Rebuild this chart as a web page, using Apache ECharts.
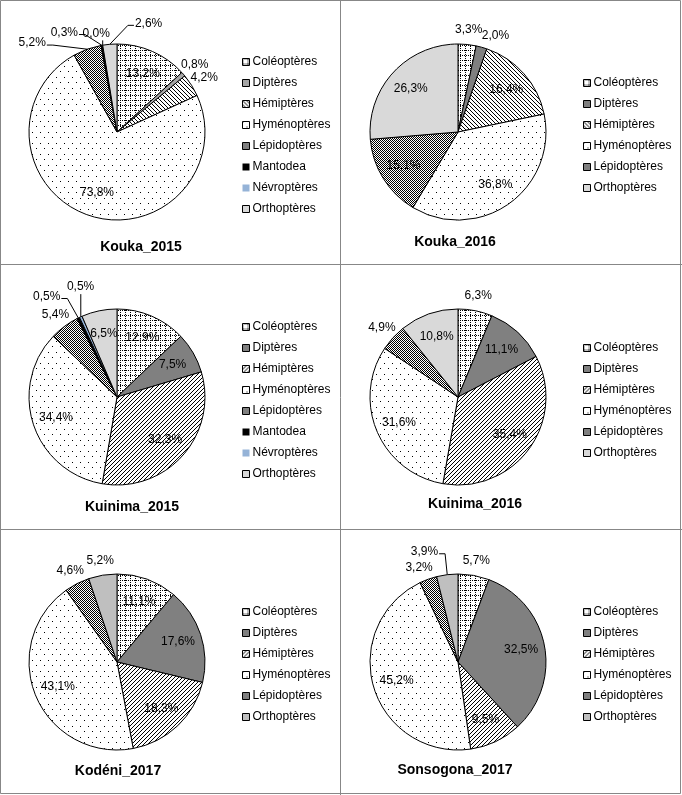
<!DOCTYPE html>
<html><head><meta charset="utf-8">
<script src="https://cdn.jsdelivr.net/npm/echarts@6/dist/echarts.min.js"></script>
<style>html,body{margin:0;padding:0;background:#fff}#c{width:682px;height:795px}</style>
</head><body><div id="c"></div>
<script>
// ---------- DATA ----------
const categories8 = ['Coléoptères','Diptères','Hémiptères','Hyménoptères','Lépidoptères','Mantodea','Névroptères','Orthoptères'];
const categories6 = ['Coléoptères','Diptères','Hémiptères','Hyménoptères','Lépidoptères','Orthoptères'];
const panelTitles = ['Kouka_2015','Kouka_2016','Kuinima_2015','Kuinima_2016','Kodéni_2017','Sonsogona_2017'];
const kouka2015 = [13.2, 0.8, 4.2, 73.8, 5.2, 0.3, 0.0, 2.6];
const kouka2016 = [3.3, 2.0, 16.4, 36.8, 15.1, 26.3];
const kuinima2015 = [12.9, 7.5, 32.3, 34.4, 5.4, 0.5, 0.5, 6.5];
const kuinima2016 = [6.3, 11.1, 35.4, 31.6, 4.9, 10.8];
const kodeni2017 = [11.1, 17.6, 18.3, 43.1, 4.6, 5.2];
const sonsogona2017 = [5.7, 32.5, 9.5, 45.2, 3.2, 3.9];

// ---------- STYLE / LAYOUT ----------
const FONT = '"Liberation Sans", Arial, sans-serif';
const R = 88;
function tile(w, h, bg, pixels) {
  const c = document.createElement('canvas'); c.width = w; c.height = h;
  const g = c.getContext('2d'); g.fillStyle = bg; g.fillRect(0, 0, w, h);
  g.fillStyle = '#000'; pixels.forEach(p => g.fillRect(p[0], p[1], 1, 1));
  return c;
}
function gridPx() { const a = []; for (let i = 0; i < 10; i += 2) { a.push([i, 0]); a.push([i, 5]); a.push([0, i]); a.push([5, i]); } return a; }
const pat = {
  grid: { image: tile(10, 10, '#fff', gridPx()), repeat: 'repeat' },
  back: { image: tile(4, 4, '#fff', [[0,0],[1,1],[2,2],[3,3]]), repeat: 'repeat' },
  slash: { image: tile(4, 4, '#fff', [[3,0],[2,1],[1,2],[0,3]]), repeat: 'repeat' },
  dots: { image: tile(8, 11, '#fff', [[0,0],[4,5]]), repeat: 'repeat' },
  checker: { image: tile(2, 2, '#fff', [[0,0],[1,1]]), repeat: 'repeat' }
};
const panels = [
  { title: panelTitles[0], names: categories8, values: kouka2015,   cx: 117, cy: 132, hatch: 'back',  dip: '#a6a6a6', orth: '#d9d9d9', tx: 141, ty: 247, lx: 237, ly: 51 },
  { title: panelTitles[1], names: categories6, values: kouka2016,   cx: 458, cy: 132, hatch: 'back',  dip: '#808080', orth: '#d9d9d9', tx: 455, ty: 242, lx: 578, ly: 72 },
  { title: panelTitles[2], names: categories8, values: kuinima2015, cx: 117, cy: 397, hatch: 'slash', dip: '#808080', orth: '#d9d9d9', tx: 132, ty: 507, lx: 237, ly: 316 },
  { title: panelTitles[3], names: categories6, values: kuinima2016, cx: 458, cy: 397, hatch: 'slash', dip: '#808080', orth: '#d9d9d9', tx: 475, ty: 504, lx: 578, ly: 337 },
  { title: panelTitles[4], names: categories6, values: kodeni2017,  cx: 117, cy: 662, hatch: 'slash', dip: '#808080', orth: '#bfbfbf', tx: 118, ty: 771, lx: 237, ly: 601 },
  { title: panelTitles[5], names: categories6, values: sonsogona2017, cx: 458, cy: 662, hatch: 'slash', dip: '#808080', orth: '#bfbfbf', tx: 455, ty: 770, lx: 578, ly: 601 }
];
// label nudges (dx, dy, leader line) for crowded small slices
const labelNudges = {
  0: { 4: [-50, 8, true], 5: [-35, 2, true], 6: [-4, 3, true], 7: [40, -6, true] },
  1: { 1: [10, 3, false] },
  2: { 5: [-25, -8, true], 6: [6, -16, true] },
  5: { 4: [-4, 3, false], 5: [-21, -8, true] }
};
function colorFor(name, p) {
  switch (name) {
    case 'Coléoptères': return pat.grid;
    case 'Diptères': return p.dip;
    case 'Hémiptères': return pat[p.hatch];
    case 'Hyménoptères': return pat.dots;
    case 'Lépidoptères': return pat.checker;
    case 'Mantodea': return '#000';
    case 'Névroptères': return '#95b3d7';
    default: return p.orth;
  }
}
const fmt = v => v.toFixed(1).replace('.', ',') + '%';

function layoutLabel(pi, params) {
  const p = panels[pi], vals = p.values, idx = params.dataIndex;
  const total = vals.reduce((a, b) => a + b, 0);
  let cum = 0; for (let k = 0; k < idx; k++) cum += vals[k];
  const mid = (cum + vals[idx] / 2) / total * 2 * Math.PI;
  const inside = vals[idx] >= 6.4;
  const d = inside ? R * 0.73 : R + 15;
  const n = (labelNudges[pi] || {})[idx] || [0, 0, false];
  const x = p.cx + d * Math.sin(mid) + n[0];
  const y = p.cy - d * Math.cos(mid) + n[1];
  const out = { x, y, align: 'center', verticalAlign: 'middle' };
  if (n[2]) {
    const ex = p.cx + R * Math.sin(mid), ey = p.cy - R * Math.cos(mid);
    const w = params.labelRect.width, h = params.labelRect.height;
    let pts;
    if (ex > x + w / 2) {
      const ax = x + w / 2 + 1, bx = Math.min(ax + 6, ex);
      pts = [[ex, ey], [bx, y + 2], [ax, y + 2]];
    } else if (ex < x - w / 2) {
      const ax = x - w / 2 - 1, bx = Math.max(ax - 6, ex);
      pts = [[ex, ey], [bx, y + 2], [ax, y + 2]];
    } else pts = [[ex, ey], [ex, y + h / 2 + 1], [ex, y + h / 2 + 1]];
    out.labelLinePoints = pts;
  }
  return out;
}

const chart = echarts.init(document.getElementById('c'), null, { renderer: 'canvas' });
const option = {
  animation: false,
  textStyle: { fontFamily: FONT },
  legend: panels.map(p => ({
    orient: 'vertical', left: p.lx, top: p.ly, itemWidth: 7, itemHeight: 7, itemGap: 9,
    icon: 'rect', selectedMode: false,
    textStyle: { fontSize: 12, color: '#000', fontFamily: FONT, padding: [0, 0, 0, -2] },
    data: p.names.map(n => ({ name: n, itemStyle: { color: colorFor(n, p), borderColor: '#000', borderWidth: (n === 'Mantodea' || n === 'Névroptères') ? 0 : 1 } }))
  })),
  series: panels.map((p, pi) => ({
    type: 'pie', center: [p.cx, p.cy], radius: R, startAngle: 90, clockwise: true,
    avoidLabelOverlap: false, silent: true,
    label: { show: true, position: 'outside', formatter: o => fmt(o.value), fontSize: 12, color: '#000', fontFamily: FONT },
    labelLine: { show: false, lineStyle: { color: '#000', width: 1 } },
    itemStyle: { borderColor: '#000', borderWidth: 1 },
    emphasis: { disabled: true },
    data: p.names.map((n, i) => ({
      name: n, value: p.values[i], itemStyle: { color: colorFor(n, p) },
      labelLine: { show: !!(((labelNudges[pi] || {})[i] || [])[2]) }
    })),
    labelLayout: params => layoutLabel(pi, params)
  })),
  graphic: [
    { type: 'rect', silent: true, shape: { x: 0.5, y: 0.5, width: 680, height: 793 }, style: { fill: 'none', stroke: '#878787', lineWidth: 1 } },
    { type: 'line', silent: true, shape: { x1: 340.5, y1: 0, x2: 340.5, y2: 795 }, style: { stroke: '#878787', lineWidth: 1 } },
    { type: 'line', silent: true, shape: { x1: 0, y1: 264.5, x2: 682, y2: 264.5 }, style: { stroke: '#878787', lineWidth: 1 } },
    { type: 'line', silent: true, shape: { x1: 0, y1: 529.5, x2: 682, y2: 529.5 }, style: { stroke: '#878787', lineWidth: 1 } }
  ].concat(panels.map(p => ({
    type: 'text', silent: true, x: p.tx, y: p.ty,
    style: { text: p.title, fill: '#000', font: 'bold 14px ' + FONT, align: 'center', verticalAlign: 'middle' }
  })))
};
chart.setOption(option);
</script>
</body></html>
